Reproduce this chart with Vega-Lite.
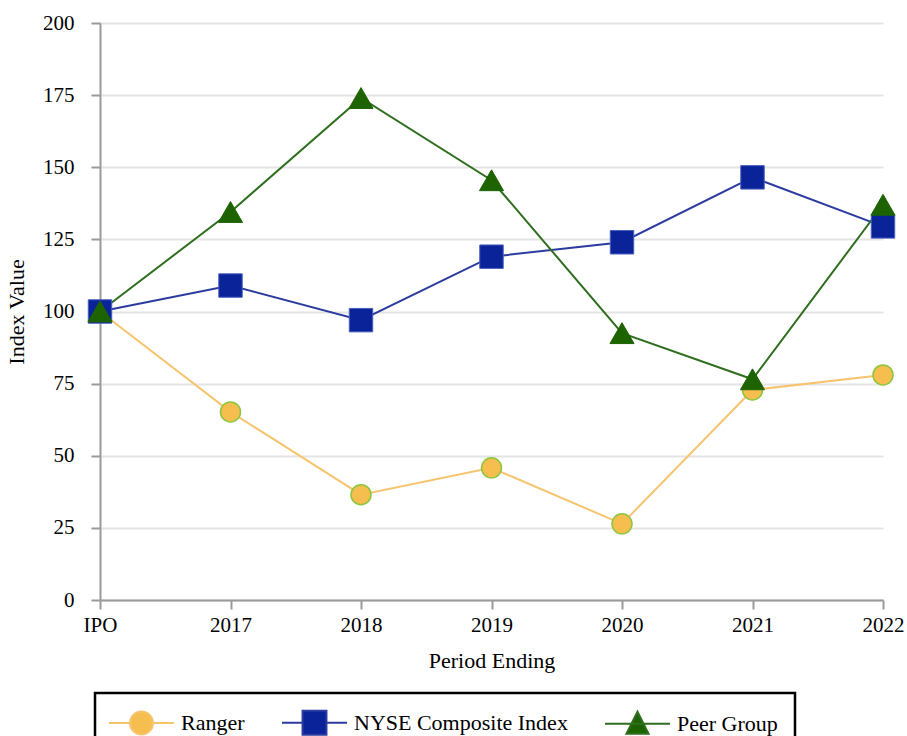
{
  "$schema": "https://vega.github.io/schema/vega-lite/v6.json",
  "width": 783,
  "height": 577,
  "autosize": {"type": "none"},
  "padding": {"left": 100, "top": 23, "right": 24, "bottom": 136},
  "background": "white",
  "config": {
    "font": "Liberation Serif",
    "view": {"stroke": null},
    "axis": {
      "labelFont": "Liberation Serif",
      "titleFont": "Liberation Serif",
      "labelFontSize": 21,
      "titleFontSize": 22,
      "titleFontWeight": "normal",
      "labelColor": "#000000",
      "titleColor": "#000000",
      "domainColor": "#9a9a9a",
      "domainWidth": 2,
      "tickColor": "#9a9a9a",
      "tickWidth": 2,
      "tickSize": 9
    },
    "legend": {"labelFont": "Liberation Serif", "labelFontSize": 22, "labelColor": "#000000", "labelLimit": 500}
  },
  "data": {
    "values": [
      {"period": "IPO", "series": "Ranger", "value": 100},
      {"period": "2017", "series": "Ranger", "value": 65.2},
      {"period": "2018", "series": "Ranger", "value": 36.5},
      {"period": "2019", "series": "Ranger", "value": 45.8},
      {"period": "2020", "series": "Ranger", "value": 26.4},
      {"period": "2021", "series": "Ranger", "value": 72.8},
      {"period": "2022", "series": "Ranger", "value": 78},
      {"period": "IPO", "series": "NYSE Composite Index", "value": 100},
      {"period": "2017", "series": "NYSE Composite Index", "value": 109},
      {"period": "2018", "series": "NYSE Composite Index", "value": 97},
      {"period": "2019", "series": "NYSE Composite Index", "value": 119},
      {"period": "2020", "series": "NYSE Composite Index", "value": 124},
      {"period": "2021", "series": "NYSE Composite Index", "value": 146.5},
      {"period": "2022", "series": "NYSE Composite Index", "value": 129.5},
      {"period": "IPO", "series": "Peer Group", "value": 100},
      {"period": "2017", "series": "Peer Group", "value": 134.5},
      {"period": "2018", "series": "Peer Group", "value": 174},
      {"period": "2019", "series": "Peer Group", "value": 145.5},
      {"period": "2020", "series": "Peer Group", "value": 92.5},
      {"period": "2021", "series": "Peer Group", "value": 76.5},
      {"period": "2022", "series": "Peer Group", "value": 137}
    ]
  },
  "encoding": {
    "x": {
      "field": "period",
      "type": "ordinal",
      "sort": ["IPO", "2017", "2018", "2019", "2020", "2021", "2022"],
      "scale": {"type": "point", "padding": 0},
      "axis": {"title": "Period Ending", "labelAngle": 0, "labelPadding": 5, "titlePadding": 15, "grid": false}
    },
    "y": {
      "field": "value",
      "type": "quantitative",
      "scale": {"domain": [0, 200], "nice": false},
      "axis": {
        "title": "Index Value",
        "values": [0, 25, 50, 75, 100, 125, 150, 175, 200],
        "grid": true,
        "gridColor": "#e4e4e4",
        "gridWidth": 2,
        "labelPadding": 17,
        "titlePadding": 14
      }
    }
  },
  "layer": [
    {
      "mark": {"type": "line", "strokeWidth": 2},
      "encoding": {
        "color": {
          "field": "series",
          "type": "nominal",
          "scale": {
            "domain": ["Ranger", "NYSE Composite Index", "Peer Group"],
            "range": ["#f7c46e", "#2b3b9f", "#2e6e1e"]
          },
          "legend": {
            "title": null,
            "orient": "none",
            "legendX": -5,
            "legendY": 670,
            "direction": "horizontal",
            "columns": 3,
            "columnPadding": 33,
            "padding": 17,
            "symbolSize": 529,
            "symbolOffset": 17,
            "labelOffset": 27,
            "encode": {
              "legend": {"update": {"stroke": {"value": "#000000"}, "strokeWidth": {"value": 2.5}}},
              "symbols": {
                "update": {
                  "shape": {"signal": "datum.value == 'Ranger' ? 'M-2.826,0L-1,0M1,0L2.826,0M-1,0A1,1,0,1,0,1,0A1,1,0,1,0,-1,0Z' : datum.value == 'Peer Group' ? 'M-2.826,0L2.826,0M0,-1.05L0.96,0.85L-0.96,0.85Z' : 'M-2.826,0L-1.04,0M1.04,0L2.826,0M-1.04,-1.04L1.04,-1.04L1.04,1.04L-1.04,1.04Z'"},
                  "fill": {"signal": "datum.value == 'Ranger' ? '#f6be4f' : datum.value == 'Peer Group' ? '#1d6400' : '#0a2399'"},
                  "stroke": {"signal": "datum.value == 'Ranger' ? '#f7c46e' : datum.value == 'Peer Group' ? '#2e6e1e' : '#2b3b9f'"},
                  "strokeWidth": {"value": 2},
                  "opacity": {"value": 1},
                  "fillOpacity": {"value": 1}
                }
              }
            }
          }
        }
      }
    },
    {
      "transform": [{"filter": "datum.series == 'Ranger'"}],
      "mark": {"type": "point", "shape": "circle", "filled": true, "opacity": 1, "fill": "#f6be4f", "stroke": "#8cc63f", "strokeWidth": 1.5, "size": 400}
    },
    {
      "transform": [{"filter": "datum.series == 'NYSE Composite Index'"}],
      "mark": {"type": "point", "shape": "square", "filled": true, "opacity": 1, "fill": "#0a2399", "stroke": "#4a5fbf", "strokeWidth": 1, "size": 550}
    },
    {
      "transform": [{"filter": "datum.series == 'Peer Group'"}],
      "mark": {"type": "point", "shape": "triangle-up", "filled": true, "opacity": 1, "fill": "#1d6400", "stroke": "#1d6400", "strokeWidth": 1, "size": 580}
    }
  ]
}
